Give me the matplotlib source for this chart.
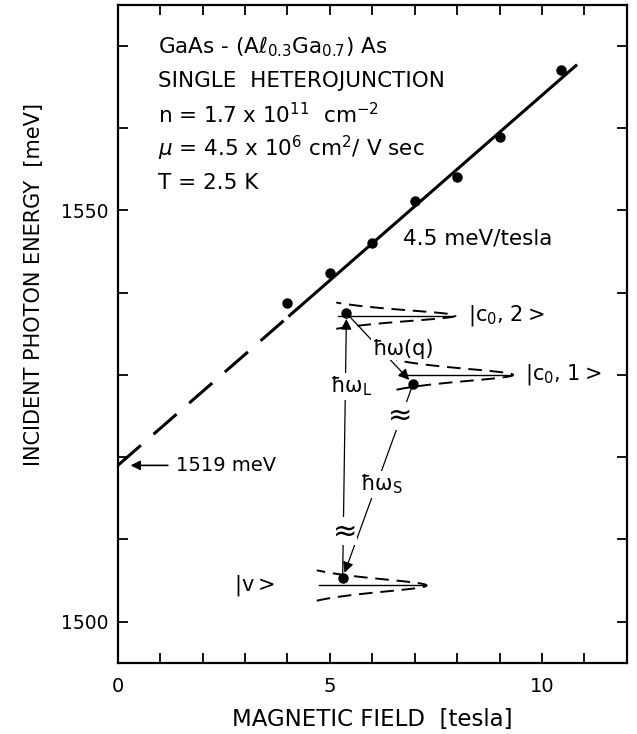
import numpy as np
import matplotlib
matplotlib.use("Agg")
import matplotlib.pyplot as plt
from matplotlib.ticker import MultipleLocator

plt.rcParams['font.family'] = ['DejaVu Sans']
plt.rcParams['mathtext.fontset'] = 'dejavusans'

#measured points ----------------------------------------------------
field = [4.0, 5.0, 6.0, 7.0, 8.0, 9.0, 10.45]          # tesla
energy = [1538.7, 1542.4, 1546.0, 1551.1, 1554.1, 1558.9, 1567.1]  # meV

#linear fit: 1519 meV + 4.5 meV/tesla
intercept = 1519.0
slope = 4.5
fit_dash_x = [0.0, 4.05]
fit_solid_x = [4.05, 10.8]

#schematic levels: centre energy, half width, base field, tip field
level_E = [1537.2, 1530.0, 1504.4]
level_hw = [1.6, 1.8, 1.85]
level_base = [5.15, 6.57, 4.69]
level_tip = [7.96, 9.32, 7.28]
level_labels = [r'$|$c$_{\mathregular{0}}$, 2$>$', r'$|$c$_{\mathregular{0}}$, 1$>$', r'$|$v$>$']
level_label_x = [8.25, 9.6, 2.75]

#transition end points (field, energy)
p_c2 = (5.39, 1537.5)
p_c1 = (6.96, 1528.9)
p_v = (5.30, 1505.3)

fig = plt.figure(figsize=(6.37, 7.34), dpi=100)
ax = fig.add_axes([0.185, 0.097, 0.799, 0.8965])

ax.set_xlim(0, 12)
ax.set_ylim(1495, 1575)

#fit line
xd = np.array(fit_dash_x)
xs = np.array(fit_solid_x)
ax.plot(xd, intercept + slope*xd, color='black', lw=2.2, linestyle=(0, (10, 5.5)), solid_capstyle='butt')
ax.plot(xs, intercept + slope*xs, color='black', lw=2.2)
ax.plot(field, energy, 'o', color='black', ms=6.5)

#level profiles
for E0, hw, xb, xt in zip(level_E, level_hw, level_base, level_tip):
    e = np.linspace(E0 - hw, E0 + hw, 101)
    g = hw/1.5
    lor = 1/(1 + ((e - E0)/g)**2)
    lmin = 1/(1 + (hw/g)**2)
    xx = xb + (xt - xb)*(lor - lmin)/(1 - lmin)
    ax.plot(xx, e, color='black', lw=1.4, linestyle=(0, (7, 4)))
    ax.plot([xb + 0.05, xt - 0.05], [E0, E0], color='black', lw=1.0)

for lab, lx, E0 in zip(level_labels, level_label_x, level_E):
    ax.text(lx, E0, lab, fontsize=15, ha='left', va='center')

ax.plot([p_c2[0], p_c1[0], p_v[0]], [p_c2[1], p_c1[1], p_v[1]], 'o', color='black', ms=6.5)

arr = dict(arrowstyle='-|>', color='black', lw=0.9, mutation_scale=16, shrinkA=0, shrinkB=4)
ax.annotate('', xy=p_c2, xytext=p_v, arrowprops=arr)
ax.annotate('', xy=p_c1, xytext=p_c2, arrowprops=arr)
ax.annotate('', xy=p_v, xytext=p_c1, arrowprops=arr)

wb = dict(facecolor='white', edgecolor='none', pad=1)
ax.text(6.0, 1533.2, 'ħω(q)', fontsize=15, ha='left', va='center', bbox=wb, zorder=5)
ax.text(5.0, 1528.6, r'ħω$_{\mathregular{L}}$', fontsize=15, ha='left', va='center', bbox=wb, zorder=5)
ax.text(5.7, 1516.7, r'ħω$_{\mathregular{S}}$', fontsize=15, ha='left', va='center', bbox=wb, zorder=5)
wb0 = dict(facecolor='white', edgecolor='none', pad=0)
ax.text(5.35, 1511.0, '≈', fontsize=21, ha='center', va='center', bbox=wb0, zorder=5)
ax.text(6.65, 1525.0, '≈', fontsize=21, ha='center', va='center', bbox=wb0, zorder=5)

#intercept marker
ax.annotate('', xy=(0.3, intercept), xytext=(1.18, intercept),
            arrowprops=dict(arrowstyle='-|>', color='black', lw=1.2, mutation_scale=14, shrinkA=0, shrinkB=0))
ax.text(1.38, intercept, '1519 meV', fontsize=14, ha='left', va='center')

#sample info
info = [r'GaAs - (A$\ell_{\mathregular{0.3}}$Ga$_{\mathregular{0.7}}$) As',
        'SINGLE  HETEROJUNCTION',
        r'n = 1.7 x 10$^{\mathregular{11}}$  cm$^{\mathregular{-2}}$',
        r'$\mu$ = 4.5 x 10$^{\mathregular{6}}$ cm$^{\mathregular{2}}$/ V sec',
        'T = 2.5 K']
info_y = [1569.9, 1565.7, 1561.7, 1557.5, 1553.3]
for s, yy in zip(info, info_y):
    ax.text(0.94, yy, s, fontsize=15.5, ha='left', va='center')

ax.text(6.72, 1546.6, '4.5 meV/tesla', fontsize=15.5, ha='left', va='center')

#axes cosmetics
ax.xaxis.set_major_locator(MultipleLocator(5))
ax.xaxis.set_minor_locator(MultipleLocator(1))
ax.yaxis.set_major_locator(MultipleLocator(50))
ax.yaxis.set_minor_locator(MultipleLocator(10))
ax.tick_params(which='both', direction='in', top=True, right=True, length=7, width=1.3)
ax.tick_params(axis='x', which='major', labelsize=14, pad=10)
ax.tick_params(axis='y', which='major', labelsize=13.5, pad=7)
for sp in ax.spines.values():
    sp.set_linewidth(1.6)

ax.set_xlabel('MAGNETIC FIELD  [tesla]', fontsize=16.5)
ax.set_ylabel('INCIDENT PHOTON ENERGY  [meV]', fontsize=15)
ax.xaxis.set_label_coords(0.5, -0.068)
ax.yaxis.set_label_coords(-0.145, 0.575)

fig.savefig('out.png', dpi=100)
